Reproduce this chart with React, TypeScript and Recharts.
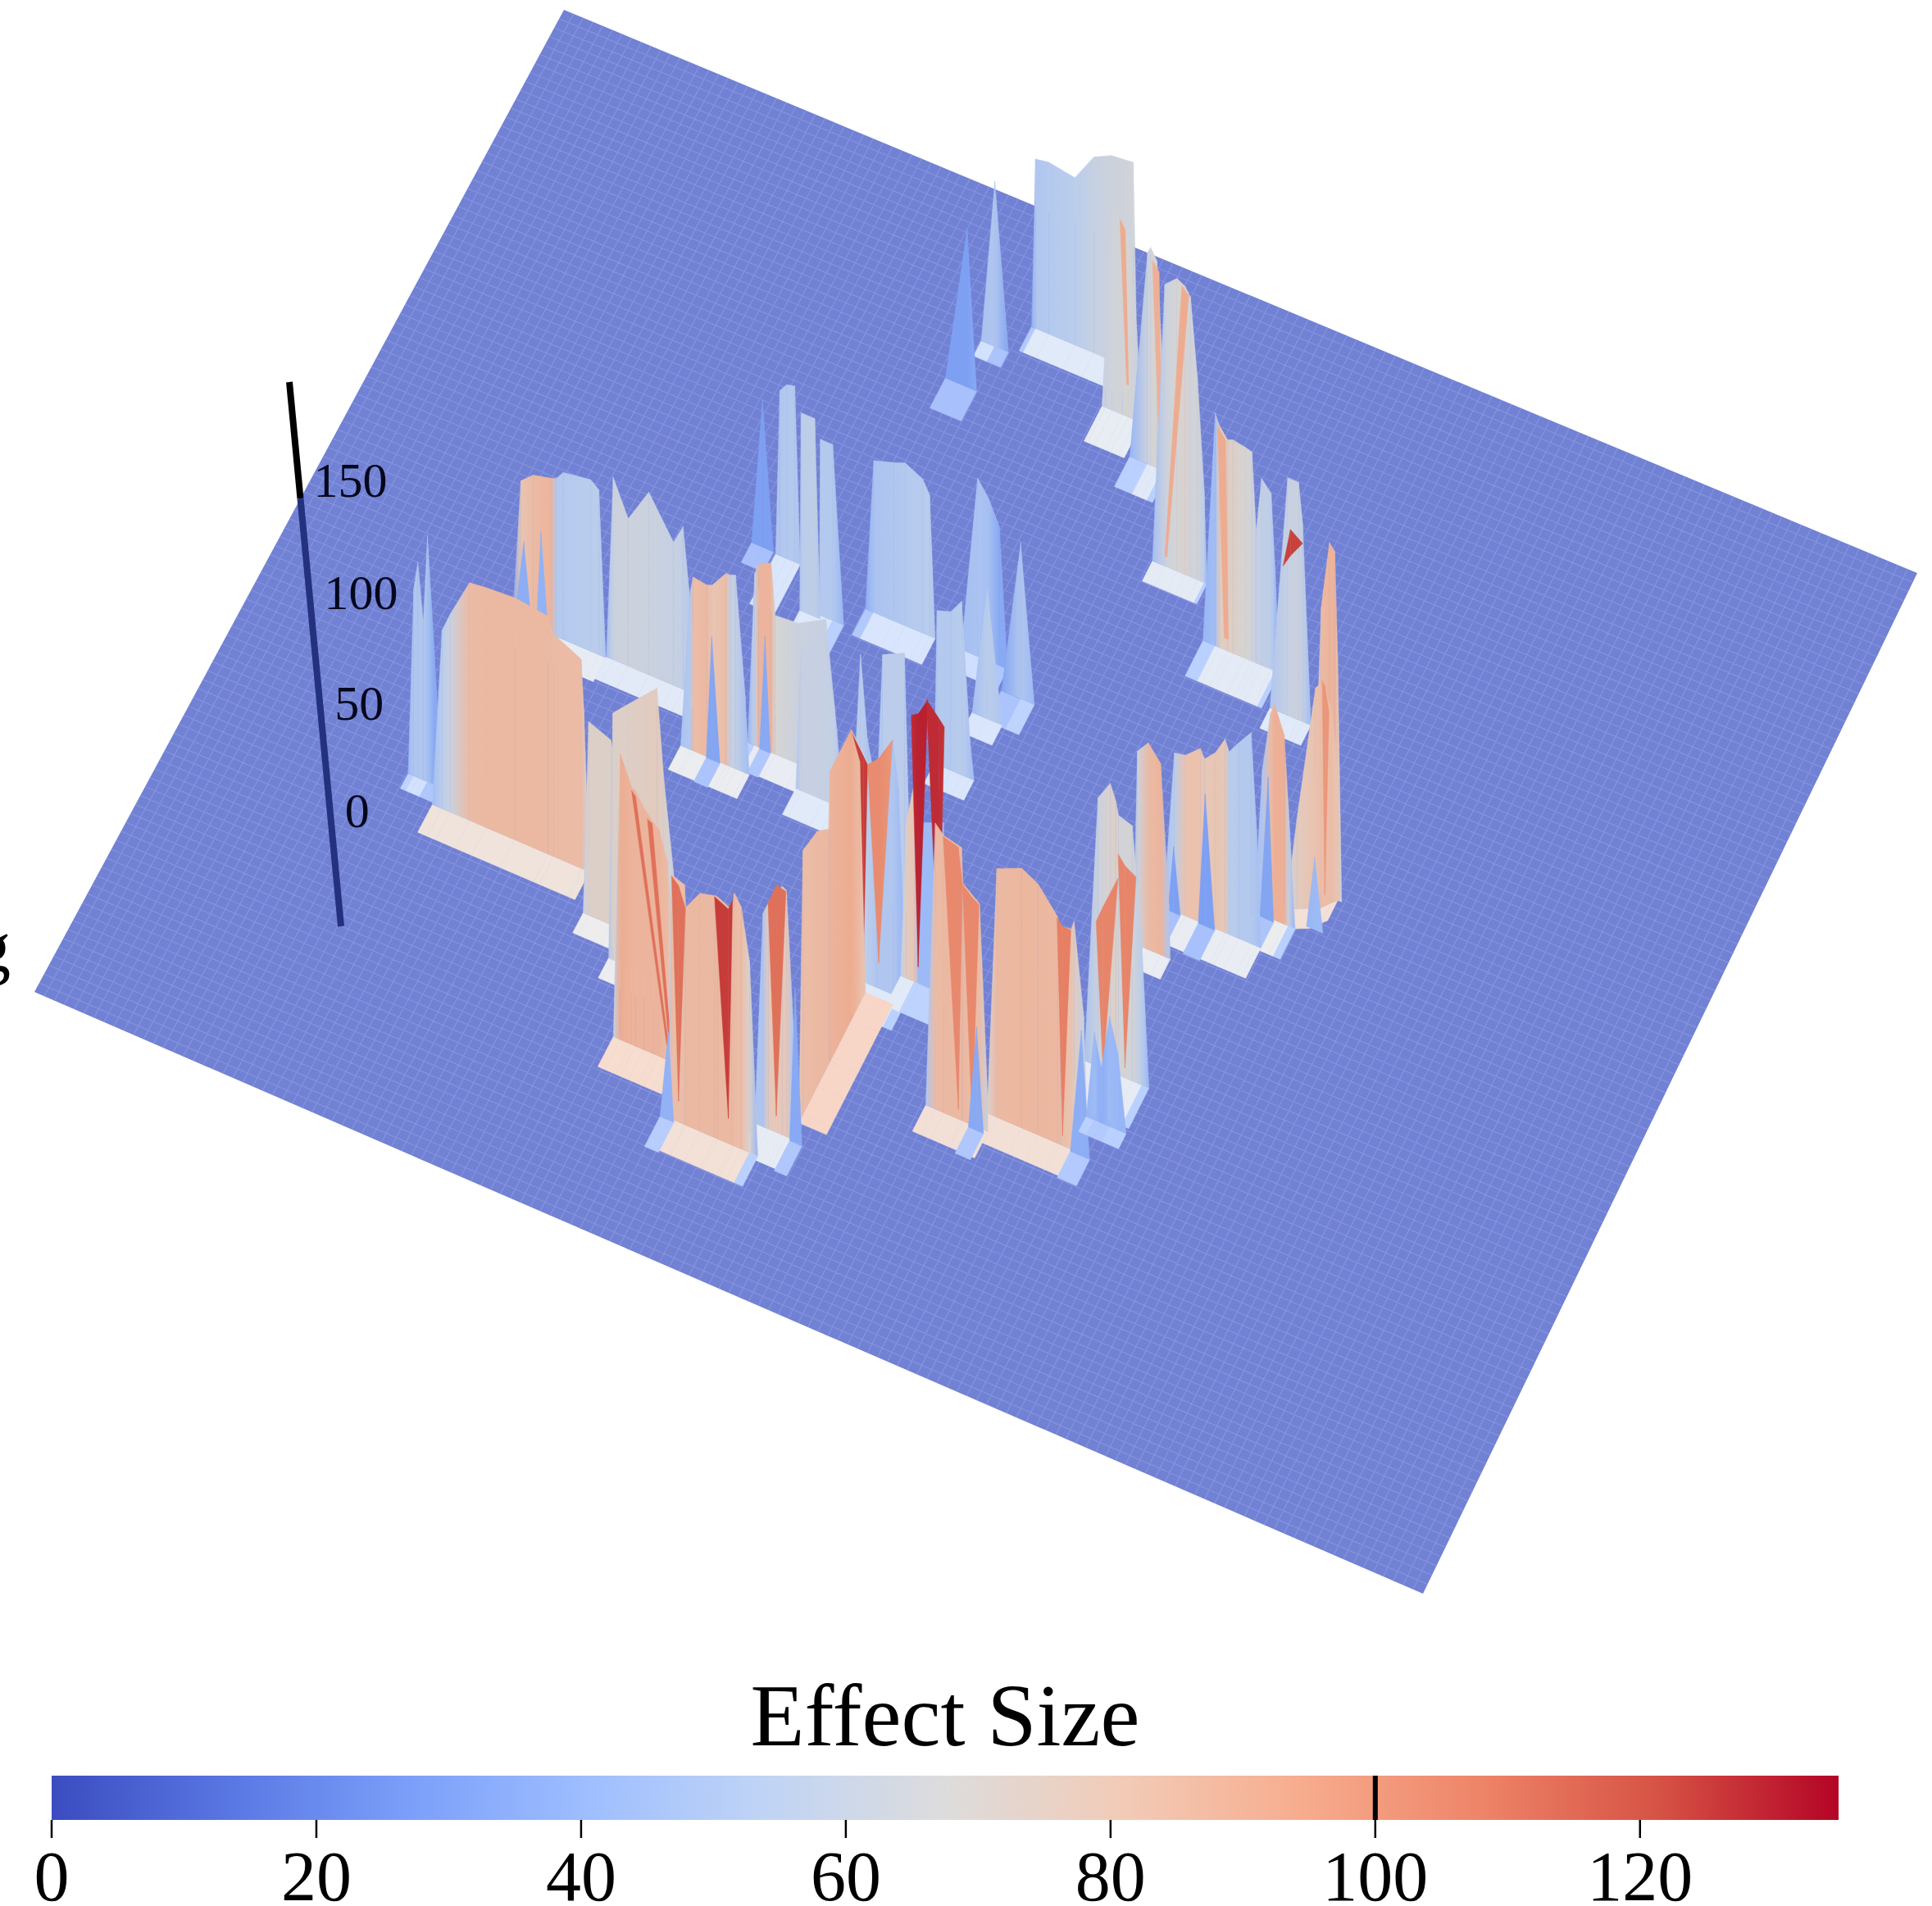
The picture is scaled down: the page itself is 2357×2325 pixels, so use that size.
import React from 'react';
import {
  AreaChart,
  Area,
  ScatterChart,
  Scatter,
  XAxis,
  YAxis,
  ReferenceLine,
} from 'recharts';

const SERIF = '"Liberation Serif", serif';

// colour bar
const effectTicks = [0, 20, 40, 60, 80, 100, 120];
const effectMax = 135;
const effectMark = 100;
const barData = [
  { effect: 0, level: 1 },
  { effect: effectMax, level: 1 },
];
const coolwarm = [
  '#3b4cc0', '#5977e3', '#7b9ff9', '#9ebeff', '#c0d4f5', '#dddcdc',
  '#f2cbb7', '#f7ac8e', '#ee8468', '#d65244', '#b40426',
];

// z axis
const heightTicks = [0, 50, 100, 150];

// plate corners, in page pixels: back left, back right, front right, front left
const plateX = [688, 2339, 1736, 42];
const plateY = [12, 699, 1944, 1210];
const gridU = 140;
const gridV = 110;
const pxPerHeight = 2.686;

// ridges: v = row on the plate (0-100), u = place along the row (0-100),
// z = height, c = effect size shown by the colour, foot = depth of the pale strip
// low / lowU = lower edge of a streak that does not reach the plate straight down
const spikeBlueBack = { v: 17.3, u: [34.8, 36.4, 37.1], z: [0, 72, 0], c: [30, 30, 34], foot: 3 };
const spikePaleBack = { v: 13, u: [35.8, 36.8, 37.8], z: [0, 75, 0], c: [47, 50, 32], foot: 1.5 };
const topBlock = {
  v: 10.1,
  u: [38.4, 38.7, 39.66, 41.6, 43, 44.3, 45.9, 46.2],
  z: [0, 77, 78, 76, 89, 93, 94, 0],
  c: [35, 50, 52, 54, 60, 63, 65, 60],
  foot: 2.4,
};
const topStripe = {
  v: 14.2,
  u: [45.15, 45.4, 45.9, 46.66, 47.1, 47.7, 48.1],
  z: [0, 30, 92, 88, 82, 42, 0],
  c: [60, 62, 65, 66, 68, 62, 50],
  foot: 3.5,
};
const topStreak = { v: 14.3, u: [46.5, 46.9], lowU: [47, 47.15], z: [89, 85], low: [15, 15], c: [92, 92], foot: 0 };
const stepOne = {
  v: 17.4,
  u: [48.4, 49.7, 49.94, 50.4, 50.8, 51.2],
  z: [0, 96, 99, 94, 50, 0],
  c: [40, 62, 66, 68, 60, 40],
  foot: 3,
};
const stepOneStreak = { v: 17.5, u: [50.1, 50.6], lowU: [50.6, 50.8], z: [94, 90], low: [10, 10], c: [90, 90], foot: 0 };
const stepTwo = {
  v: 25.2,
  u: [53, 53.9, 54.8, 55.4, 55.8, 56.3, 56.8, 57],
  z: [0, 128, 133, 131, 127, 92, 42, 0],
  c: [45, 62, 68, 70, 65, 66, 55, 40],
  foot: 2,
};
const stepTwoStreak = { v: 25.3, u: [55.2, 55.7], lowU: [53.95, 54.1], z: [131, 128], low: [5, 5], c: [92, 92], foot: 0 };
const stepThree = {
  v: 30,
  u: [58.5, 59.4, 59.7, 60.3, 60.7, 61.6, 62.1, 62.4, 62.8, 63.5, 63.8, 64.1],
  z: [0, 106, 101, 96, 97, 96, 95, 60, 85, 80, 45, 0],
  c: [40, 45, 74, 74, 72, 68, 65, 60, 58, 56, 45, 40],
  foot: 3.5,
};
const stepThreeStreak = { v: 30.1, u: [59.6, 60.2], lowU: [60.1, 60.4], z: [101, 96], low: [6, 6], c: [92, 92], foot: 0 };
const stepFour = {
  v: 33.2,
  u: [64.6, 65.9, 66.7, 67, 67.6],
  z: [0, 108, 108, 90, 0],
  c: [50, 60, 62, 58, 45],
  foot: 2,
};
const redChip = { v: 33.2, u: [65.56, 66.1, 67], z: [67, 85, 81], low: [67, 73, 81], c: [124, 124, 124], foot: 0 };

const midBlue = { v: 37.6, u: [28.3, 29.1, 29.9], z: [0, 67, 0], c: [30, 30, 30], foot: 2 };
const midPale = { v: 37.7, u: [30.1, 30.4, 30.9, 31.5, 31.9], z: [0, 75, 79, 80, 0], c: [48, 50, 52, 52, 48], foot: 5 };
const midPaleTwo = { v: 41.5, u: [33.3, 33.4, 34.4, 34.8], z: [0, 90, 90, 0], c: [50, 55, 57, 50], foot: 2 };
const midPaleThree = { v: 41.2, u: [34.6, 34.7, 35.6, 36.4], z: [0, 80, 80, 0], c: [50, 52, 52, 40], foot: 3 };
const centreBlock = {
  v: 39.1,
  u: [37.2, 37.8, 39.3, 40.1, 41.4, 41.9, 42.3],
  z: [0, 69, 72, 74, 70, 64, 0],
  c: [35, 48, 50, 52, 53, 54, 50],
  foot: 2.6,
};
const centreSpikes = {
  v: 39.1,
  u: [44.2, 45.4, 46.2, 47, 47.6],
  z: [0, 81, 74, 63, 0],
  c: [45, 48, 46, 34, 34],
  foot: 2,
};
const centreSpikeTwo = { v: 41.1, u: [47.9, 49.3, 50.3], z: [0, 71, 0], c: [32, 50, 42], foot: 3 };
const centreSpikeThree = { v: 43.9, u: [46.8, 47.9, 49], z: [0, 60, 0], c: [45, 55, 50], foot: 2 };
const rightTall = {
  v: 46.6,
  u: [72.6, 73.3, 73.9, 74.3, 74.5, 74.8],
  z: [0, 130, 161, 158, 111, 0],
  c: [60, 85, 88, 88, 80, 60],
  foot: 0,
};
const rightFront = {
  v: [49, 48.7, 48, 47.8, 47, 46.6],
  u: [71.6, 72.3, 73.4, 73.7, 74.2, 74.5],
  z: [0, 41, 100, 102, 89, 60],
  c: [60, 75, 82, 84, 84, 80],
  foot: 2,
};
const rightOrange = { v: 47.5, u: [73.7, 73.9, 74.2], z: [102, 100, 89], low: [102, 5, 89], c: [100, 100, 100], foot: 0 };
const rightBlue = { v: 49.8, u: [73.4, 74, 74.6], z: [0, 33, 0], c: [40, 42, 42], foot: 0 };
const centreShort = {
  v: 49.4,
  u: [46.1, 46.3, 47.3, 48.1, 48.7, 49],
  z: [0, 70, 72, 79, 18, 0],
  c: [45, 52, 52, 54, 48, 45],
  foot: 2,
};
const rightPeak = {
  v: 50.4,
  u: [69.8, 70.4, 71, 71.3, 72, 72.3, 72.8],
  z: [0, 66, 93, 98, 86, 55, 0],
  c: [45, 50, 85, 90, 90, 60, 40],
  foot: 3,
};
const rightBlueTwo = { v: 50.6, u: [70.3, 70.9, 71.3], z: [0, 65, 0], c: [32, 32, 32], foot: 3 };
const backWall = {
  v: 52.2,
  u: [16.4, 17, 17.9, 19.2, 19.6, 20.1, 22.1, 22.7, 23.2],
  z: [0, 64, 69, 71, 72, 76, 78, 75, 0],
  c: [32, 80, 85, 88, 52, 52, 54, 55, 50],
  foot: 2.4,
};
const backBlueOne = { v: 52.4, u: [18.2, 18.55, 19.1], z: [0, 46, 0], c: [38, 38, 38], foot: 0 };
const backBlueTwo = { v: 52.4, u: [16.6, 17.3, 17.9], z: [0, 38, 0], c: [36, 36, 36], foot: 0 };
const backTeeth = {
  v: 52.1,
  u: [23.2, 23.7, 24.8, 26.3, 28.1, 28.8, 29.5, 29.9],
  z: [0, 83, 67, 83, 65, 74, 30, 0],
  c: [45, 62, 63, 62, 60, 58, 50, 48],
  foot: 2.2,
};
const rightTeeth = {
  v: 53.15,
  u: [64.2, 65, 65.8, 66.9, 67.2, 68, 68.7, 69, 69.7, 70.6, 71, 71.3],
  z: [0, 72, 73, 79, 75, 80, 88, 83, 89, 96, 53, 0],
  c: [45, 55, 82, 82, 78, 80, 78, 55, 52, 52, 48, 45],
  foot: 3,
};
const rightBlueThree = { v: 53.3, u: [64.6, 65, 65.5], z: [0, 30, 0], c: [30, 30, 30], foot: 3 };
const rightBlueFour = { v: 53.3, u: [66.8, 67.3, 68], z: [0, 60, 0], c: [30, 30, 30], foot: 3 };
const innerSalmon = {
  v: 54.2,
  u: [34.3, 34.8, 35.1, 36, 36.3, 38, 40, 40.8, 41.1],
  z: [0, 78, 83, 86, 63, 64, 71, 23, 0],
  c: [40, 60, 88, 88, 68, 62, 60, 50, 48],
  foot: 2.4,
};
const innerBlue = { v: 54.3, u: [35.2, 35.6, 36], z: [0, 52, 0], c: [34, 34, 34], foot: 2.4 };
const innerGrey = { v: 56.3, u: [38.6, 39, 40.6, 41.4, 41.9], z: [0, 65, 77, 45, 0], c: [50, 60, 60, 58, 50], foot: 2.6 };
const innerPeach = {
  v: 56.8,
  u: [30.4, 31.1, 31.3, 32.3, 32.7, 33.7, 34, 34.4, 35.1, 35.4],
  z: [0, 72, 79, 78, 79, 87, 87, 88, 35, 0],
  c: [48, 52, 84, 86, 80, 84, 60, 58, 48, 45],
  foot: 2.4,
};
const innerBlueTwo = { v: 56.9, u: [32.3, 32.7, 33.3], z: [0, 56, 0], c: [32, 32, 32], foot: 2.4 };
const lowerBack = {
  v: 57.2,
  u: [63.5, 63.8, 64.6, 65.5, 66.1, 66.2],
  z: [0, 88, 94, 87, 25, 0],
  c: [45, 62, 85, 88, 50, 45],
  foot: 2,
};
const paleTwin = {
  v: 62.7,
  u: [44.8, 45.7, 46.2, 46.9, 47.3, 48.9, 49.4],
  z: [0, 109, 72, 50, 113, 118, 0],
  c: [45, 55, 50, 45, 55, 55, 48],
  foot: 0,
};
const lowerRight = {
  v: 68.5,
  u: [64.1, 65.1, 66, 66.4, 66.6, 67.6, 68.3, 68.8],
  z: [0, 122, 131, 124, 118, 116, 63, 0],
  c: [48, 62, 70, 72, 66, 66, 55, 40],
  foot: 4,
};
const lowerLobeOne = { v: 68.6, u: [65, 65.5, 66.6], z: [66, 74, 90], low: [66, 0, 90], c: [106, 106, 106], foot: 0 };
const lowerLobeTwo = { v: 68.6, u: [66.6, 67.1, 67.9], z: [101, 97, 94], low: [101, 5, 94], c: [106, 106, 106], foot: 0 };
const lowerFront = {
  v: 73,
  u: [65.9, 66.5, 67, 67.6, 68.2, 68.8],
  z: [0, 40, 25, 50, 35, 0],
  c: [40, 42, 36, 42, 40, 40],
  foot: 1.5,
};
const leftSpikes = {
  v: 68.7,
  u: [15.1, 15.5, 15.8, 16.2, 16.5, 17, 17.6],
  z: [0, 85, 98, 72, 112, 60, 0],
  c: [42, 50, 50, 50, 47, 34, 34],
  foot: 1.5,
};
const centreRed = {
  v: 68,
  u: [50.6, 51, 51.6, 51.9, 53.7, 54],
  z: [0, 71, 91, 73, 78, 0],
  c: [60, 75, 80, 42, 42, 40],
  foot: 3,
};
const centreRedLobeOne = { v: 68.1, u: [51.4, 51.9, 52.6], z: [121, 123, 131], low: [121, 8, 131], c: [128, 130, 130], foot: 0 };
const centreRedLobeTwo = { v: 68.1, u: [52.5, 53.4, 53.8], z: [131, 125, 122], low: [131, 8, 122], c: [128, 128, 126], foot: 0 };
const slopeBack = {
  v: 69.8,
  u: [47.5, 47.7, 48.9, 49.5, 50.7, 51.1, 51.7],
  z: [0, 112, 100, 100, 116, 95, 0],
  c: [60, 70, 55, 50, 50, 45, 40],
  foot: 3,
};
const slopeLobeOne = { v: 69.9, u: [47.7, 48.6, 48.9], z: [112, 103, 100], low: [112, 12, 100], c: [124, 125, 125], foot: 0 };
const slopeLobeTwo = { v: 69.9, u: [48.9, 49.7, 50.7], z: [100, 105, 116], low: [100, 12, 116], c: [104, 104, 100], foot: 0 };
const slopeSide = {
  v: [83.6, 82.8, 80, 77.8, 77.5, 73.4, 71.7, 70.6],
  u: 49,
  z: [0, 120, 116, 107, 132, 132, 110, 0],
  c: [80, 84, 86, 86, 88, 92, 85, 80],
  foot: [2, 0],
};
const bigWall = {
  v: 70.4,
  u: [17.5, 18.2, 18.8, 20.2, 21.4, 23.5, 25.9, 26.3, 28.3, 28.5, 28.9],
  z: [0, 81, 90, 108, 109, 110, 108, 101, 95, 72, 0],
  c: [45, 54, 62, 85, 86, 86, 86, 85, 85, 78, 60],
  foot: 2.8,
};
const frontGreyOne = {
  v: 74,
  u: [29.8, 30.2, 31.8, 32.3, 32.6],
  z: [0, 88, 84, 71, 0],
  c: [60, 72, 72, 70, 60],
  foot: 2,
};
const frontGreyTwo = {
  v: 76.8,
  u: [32.7, 33, 34.1, 36.2, 36.7, 37.5, 37.9],
  z: [0, 112, 119, 132, 92, 46, 0],
  c: [50, 72, 73, 76, 72, 60, 50],
  foot: 2,
};
const wideWall = {
  v: 76.2,
  u: [59.9, 60.6, 62.4, 63.6, 65, 65.2, 66, 66.2, 66.9, 67.2],
  z: [0, 113, 118, 114, 103, 99, 100, 104, 63, 0],
  c: [70, 86, 87, 87, 86, 85, 80, 75, 60, 50],
  foot: 2.6,
};
const wideLobe = { v: 76.3, u: [65, 65.4, 66], z: [103, 100, 100], low: [103, 5, 100], c: [108, 108, 108], foot: 0 };
const wideBlue = { v: 76.4, u: [66, 66.8, 67.4], z: [0, 57, 0], c: [36, 36, 36], foot: 2.6 };
const frontStreaks = {
  v: 77.7,
  u: [56, 56.7, 57.3, 58.6, 58.7, 59.9, 60.5],
  z: [0, 130, 126, 124, 108, 102, 15],
  c: [50, 85, 86, 86, 86, 84, 60],
  foot: 2.6,
};
const streakLobeOne = { v: 77.8, u: [57.3, 58.4, 58.7], z: [126, 124, 108], low: [126, 5, 108], c: [105, 105, 105], foot: 0 };
const streakLobeTwo = { v: 77.8, u: [58.7, 59.4, 59.9], z: [108, 104, 102], low: [108, 2, 102], c: [105, 105, 105], foot: 0 };
const streakBlue = { v: 78, u: [59.2, 59.8, 60.3], z: [0, 47, 0], c: [34, 34, 34], foot: 2.6 };
const frontRedWall = {
  v: 83.1,
  u: [35.4, 35.9, 36.7, 37, 37.6, 38.3, 38.7, 39.3, 39.7, 40],
  z: [0, 130, 117, 116, 110, 105, 103, 90, 54, 0],
  c: [60, 92, 88, 88, 88, 88, 88, 85, 70, 60],
  foot: 3,
};
const frontThinOne = { v: 83.2, u: [36.75, 37.05], lowU: [39.3, 39.45], z: [116, 114], low: [7, 7], c: [112, 112], foot: 0 };
const frontThinTwo = { v: 83.2, u: [37.9, 38.25], lowU: [39.55, 39.7], z: [106, 105], low: [3, 3], c: [112, 112], foot: 0 };
const frontRedTwo = {
  v: 85.2,
  u: [46.4, 47, 47.4, 48.4, 48.7, 49.2, 49.6],
  z: [0, 97, 103, 113, 112, 52, 0],
  c: [48, 50, 78, 78, 78, 50, 45],
  foot: 3,
};
const frontRedTwoLobe = { v: 85.3, u: [47.4, 48, 48.7], z: [103, 113, 112], low: [103, 8, 112], c: [112, 112, 112], foot: 0 };
const frontBlue = { v: 85.4, u: [49, 49.4, 49.9], z: [0, 70, 0], c: [34, 34, 34], foot: 3 };
const frontWall = {
  v: 87.8,
  u: [41.1, 41.4, 42.3, 42.4, 43.4, 44.5, 44.7, 45.7, 45.9, 46.4, 47, 47.6],
  z: [0, 111, 109, 99, 108, 110, 110, 107, 115, 110, 87, 0],
  c: [50, 84, 84, 86, 86, 86, 86, 86, 85, 84, 70, 40],
  foot: 3,
};
const frontLobeOne = { v: 87.9, u: [41.4, 41.9, 42.4], z: [111, 108, 99], low: [111, 10, 99], c: [112, 112, 112], foot: 0 };
const frontLobeTwo = { v: 87.9, u: [44.5, 45.5, 45.8], z: [110, 107, 112], low: [110, 12, 112], c: [125, 125, 125], foot: 0 };
const frontBlueTwo = { v: 88, u: [40.6, 41.2, 41.6], z: [0, 40, 0], c: [38, 38, 38], foot: 3 };

// back to front
const ridges = [
  topBlock, spikePaleBack, topStripe, topStreak, spikeBlueBack, stepOne, stepOneStreak, stepTwo, stepTwoStreak,
  stepThree, stepThreeStreak, stepFour, redChip,
  midBlue, midPale, centreSpikes, centreBlock, centreSpikeTwo, midPaleThree, midPaleTwo, centreSpikeThree,
  rightTall, rightFront, rightOrange, rightBlue, centreShort, rightPeak, rightBlueTwo,
  backWall, backBlueOne, backBlueTwo, backTeeth, rightTeeth, rightBlueThree, rightBlueFour,
  innerSalmon, innerBlue, innerGrey, innerPeach, innerBlueTwo, lowerBack, paleTwin,
  slopeBack, slopeLobeOne, slopeLobeTwo, centreRed, centreRedLobeOne, centreRedLobeTwo,
  lowerRight, lowerLobeOne, lowerLobeTwo, leftSpikes, slopeSide, bigWall, frontGreyOne,
  wideWall, wideLobe, wideBlue, lowerFront, frontGreyTwo, frontStreaks, streakLobeOne, streakLobeTwo, streakBlue,
  frontRedWall, frontThinOne, frontThinTwo, frontRedTwo, frontRedTwoLobe, frontBlue,
  frontWall, frontLobeOne, frontLobeTwo, frontBlueTwo,
];

function project(u: number, v: number, z = 0) {
  const s = u / 100;
  const t = v / 100;
  const mix = (p: number[]) =>
    p[0] * (1 - s) * (1 - t) + p[1] * s * (1 - t) + p[2] * s * t + p[3] * (1 - s) * t;
  return { x: mix(plateX), y: mix(plateY) - z * pxPerHeight };
}

function hexToRgb(hex: string) {
  return [1, 3, 5].map((i) => parseInt(hex.slice(i, i + 2), 16));
}

function effectColor(effect: number, lighten = 0, shade = 1) {
  const pos = (Math.min(Math.max(effect, 0), effectMax) / effectMax) * (coolwarm.length - 1);
  const i = Math.min(Math.floor(pos), coolwarm.length - 2);
  const a = hexToRgb(coolwarm[i]);
  const b = hexToRgb(coolwarm[i + 1]);
  const rgb = a.map((n, k) => {
    const c = n + (b[k] - n) * (pos - i);
    return Math.round((c + (255 - c) * lighten) * shade);
  });
  return `rgb(${rgb.join(',')})`;
}

function ridgePoints(r: any) {
  const out: { x: number; y: number }[] = [];
  const [du, dv] = Array.isArray(r.foot) ? r.foot : [0, r.foot];
  r.c.forEach((_: number, i: number) => {
    const u = Array.isArray(r.u) ? r.u[i] : r.u;
    const v = Array.isArray(r.v) ? r.v[i] : r.v;
    out.push(project(u, v, 0));
    out.push(project(u + du, v + dv, 0));
    out.push(project(r.lowU ? r.lowU[i] : u, v, r.low ? r.low[i] : 0));
    out.push(project(u, v, r.z[i]));
  });
  return out;
}

const noDot = () => <g />;

function footColor(r: any, i: number) {
  const small = Math.min(r.c[i], r.c[i + 1]);
  if (small < 45) return effectColor(small, 0.3);
  const mean = r.c.reduce((a: number, b: number) => a + b, 0) / r.c.length;
  return effectColor(mean, mean > 72 ? 0.34 : 0.5);
}

function drawRidge(r: any, id: string) {
  return (props: any) => {
    const p = props.points;
    const hasFoot = Array.isArray(r.foot) || r.foot > 0;
    const feet: React.ReactNode[] = [];
    const faces: React.ReactNode[] = [];
    for (let i = 0; i < r.c.length - 1; i++) {
      const n = i * 4;
      const m = n + 4;
      if (hasFoot) {
        const fill = footColor(r, i);
        feet.push(
          <path
            key={`f${i}`}
            d={`M${p[n].x},${p[n].y}L${p[m].x},${p[m].y}L${p[m + 1].x},${p[m + 1].y}L${p[n + 1].x},${p[n + 1].y}Z`}
            fill={fill}
            stroke={fill}
            strokeWidth={0.6}
          />,
        );
      }
      const grad = `${id}-${i}`;
      faces.push(
        <g key={`w${i}`}>
          <linearGradient id={grad} gradientUnits="userSpaceOnUse" x1={p[n].x} y1={0} x2={p[m].x} y2={0}>
            <stop offset="0%" stopColor={effectColor(r.c[i], 0, 0.965)} />
            <stop offset="100%" stopColor={effectColor(r.c[i + 1], 0, 0.965)} />
          </linearGradient>
          <path
            d={`M${p[n + 2].x},${p[n + 2].y}L${p[m + 2].x},${p[m + 2].y}L${p[m + 3].x},${p[m + 3].y}L${p[n + 3].x},${p[n + 3].y}Z`}
            fill={`url(#${grad})`}
            stroke={effectColor(r.c[i], 0, 0.965)}
            strokeWidth={0.4}
          />
        </g>,
      );
    }
    return (
      <g>
        {feet}
        {faces}
      </g>
    );
  };
}

const plateCorners = [0, 1, 2, 3].map((i) => ({ x: plateX[i], y: plateY[i] }));

const gridPoints: { x: number; y: number }[] = [];
for (let i = 1; i < gridU; i++) {
  gridPoints.push(project((i / gridU) * 100, 0), project((i / gridU) * 100, 100));
}
for (let j = 1; j < gridV; j++) {
  gridPoints.push(project(0, (j / gridV) * 100), project(100, (j / gridV) * 100));
}

const drawPlate = (props: any) => (
  <path
    d={`M${props.points.map((q: any) => `${q.x},${q.y}`).join('L')}Z`}
    fill="#7181d3"
  />
);

const drawGrid = (props: any) => {
  const q = props.points;
  let d = '';
  for (let i = 0; i < q.length; i += 2) {
    d += `M${q[i].x},${q[i].y}L${q[i + 1].x},${q[i + 1].y}`;
  }
  return <path d={d} fill="none" stroke="#8a97e2" strokeWidth={1.3} strokeOpacity={0.8} />;
};

// z axis stands apart from the plate
const axisX = (y: number) => 353 + (y - 466) * 0.0949;
const heightY = (z: number) => 989 - 2.6 * z - 0.00058 * z * z;
const axisAbove = [466, 608].map((y) => ({ x: axisX(y), y }));
const axisBelow = [608, 1130].map((y) => ({ x: axisX(y), y }));
const heightLabels = heightTicks.map((z) => ({ x: axisX(heightY(z)), y: heightY(z), z }));

const drawHeightLabel = (props: any) => (
  <text
    x={props.cx + 18}
    y={props.cy}
    dominantBaseline="central"
    fontFamily={SERIF}
    fontSize={60}
    fill="#05071c"
  >
    {props.payload.z}
  </text>
);

const drawAxisBlack = (props: any) => (
  <path d={`M${props.points[0].x},${props.points[0].y}L${props.points[1].x},${props.points[1].y}`} stroke="#000" strokeWidth={8} />
);
const drawAxisNavy = (props: any) => (
  <path d={`M${props.points[0].x},${props.points[0].y}L${props.points[1].x},${props.points[1].y}`} stroke="#24317f" strokeWidth={8} />
);

export default function App() {
  const gradStops = coolwarm.map((c, i) => (
    <stop key={c} offset={`${(i / (coolwarm.length - 1)) * 100}%`} stopColor={c} />
  ));
  return (
    <div style={{ position: 'absolute', left: 0, top: 0, width: 2357, height: 2325, overflow: 'hidden', background: '#fff' }}>
      <ScatterChart width={2357} height={2040} margin={{ top: 0, right: 0, bottom: 0, left: 0 }}>
        <XAxis type="number" dataKey="x" domain={[0, 2357]} hide allowDataOverflow />
        <YAxis type="number" dataKey="y" domain={[0, 2040]} reversed hide allowDataOverflow />
        <Scatter data={plateCorners} line={drawPlate} shape={noDot} isAnimationActive={false} />
        <Scatter data={gridPoints} line={drawGrid} shape={noDot} isAnimationActive={false} />
        <Scatter data={axisAbove} line={drawAxisBlack} shape={noDot} isAnimationActive={false} />
        <Scatter data={axisBelow} line={drawAxisNavy} shape={noDot} isAnimationActive={false} />
        <Scatter data={heightLabels} shape={drawHeightLabel} isAnimationActive={false} />
        {ridges.map((r, i) => (
          <Scatter
            key={i}
            data={ridgePoints(r)}
            line={drawRidge(r, `ridge${i}`)}
            shape={noDot}
            isAnimationActive={false}
          />
        ))}
      </ScatterChart>
      <div
        style={{
          position: 'absolute',
          left: -30,
          top: 1105,
          fontFamily: SERIF,
          fontSize: 86,
          lineHeight: '100px',
          color: '#000',
        }}
      >
        g
      </div>
      <div
        style={{
          position: 'absolute',
          left: 0,
          width: 2306,
          top: 2033,
          textAlign: 'center',
          fontFamily: SERIF,
          fontSize: 108,
          lineHeight: '120px',
          color: '#000',
        }}
      >
        Effect Size
      </div>
      <AreaChart
        style={{ position: 'absolute', left: 0, top: 2043 }}
        width={2357}
        height={282}
        data={barData}
        margin={{ top: 123, right: 114, bottom: 0, left: 63 }}
      >
        <defs>
          <linearGradient id="effectBar" x1="0" y1="0" x2="1" y2="0">
            {gradStops}
          </linearGradient>
        </defs>
        <XAxis
          type="number"
          dataKey="effect"
          domain={[0, effectMax]}
          ticks={effectTicks}
          height={105}
          axisLine={false}
          tickSize={22}
          tickLine={{ stroke: '#000', strokeWidth: 2.5 }}
          tick={{ fontFamily: SERIF, fontSize: 86, fill: '#000' }}
          tickMargin={15}
          interval={0}
        />
        <YAxis type="number" domain={[0, 1]} hide />
        <Area
          dataKey="level"
          type="linear"
          stroke="none"
          fill="url(#effectBar)"
          fillOpacity={1}
          isAnimationActive={false}
        />
        <ReferenceLine x={effectMark} stroke="#000" strokeWidth={6} />
      </AreaChart>
    </div>
  );
}
